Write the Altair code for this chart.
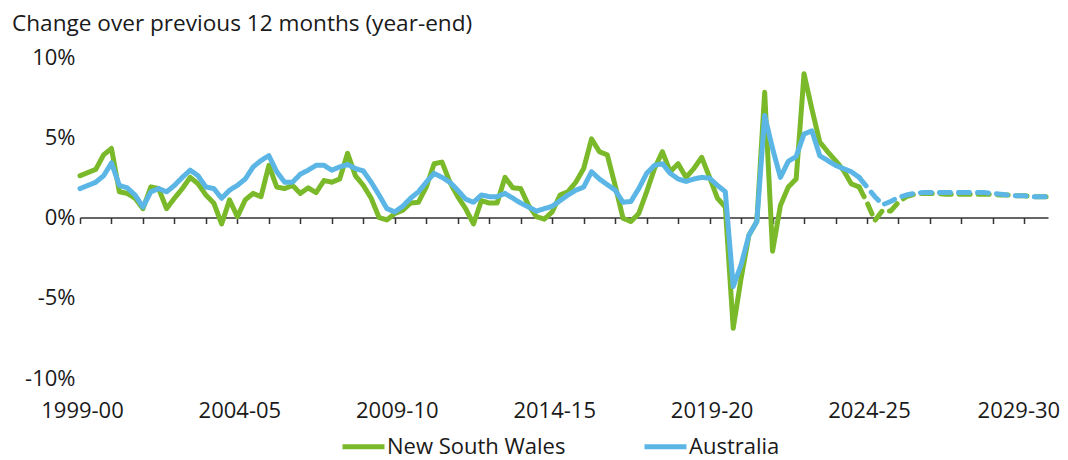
import json
import altair as alt
import pandas as pd

# Quarterly, Sep-1999 (index 0) to Jun-2030 (index 123); actuals to index 99, then projections
year_labels = ["1999-00", "2004-05", "2009-10", "2014-15", "2019-20", "2024-25", "2029-30"]
series_names = ["New South Wales", "Australia"]
series_colors = ["#7AB929", "#5BB6E6"]
last_actual = 99

nsw = [
    2.6, 2.8, 3.0, 3.9, 4.3, 1.6, 1.5, 1.2, 0.55, 1.9,
    1.8, 0.55, 1.2, 1.8, 2.5, 2.1, 1.4, 0.9, -0.4, 1.1,
    0.05, 1.1, 1.5, 1.3, 3.25, 1.9, 1.8, 2.0, 1.5, 1.85,
    1.55, 2.3, 2.2, 2.4, 4.0, 2.6, 2.0, 1.2, 0.0, -0.15,
    0.25, 0.45, 0.9, 0.95, 1.9, 3.35, 3.45, 2.2, 1.3, 0.55,
    -0.4, 1.05, 0.9, 0.9, 2.5, 1.85, 1.8, 0.75, 0.05, -0.1,
    0.35, 1.4, 1.6, 2.2, 3.05, 4.9, 4.1, 3.9, 2.0, -0.05,
    -0.25, 0.25, 1.6, 3.05, 4.1, 2.85, 3.35, 2.5, 3.05, 3.75,
    2.5, 1.2, 0.65, -6.9, -3.8, -1.1, -0.25, 7.8, -2.1, 0.75,
    1.9, 2.4, 8.95, 6.75, 4.7, 4.1, 3.55, 2.95, 2.1, 1.9,
    0.95, -0.2, 0.45, 0.4, 0.95, 1.3, 1.45, 1.5, 1.5, 1.5,
    1.45, 1.45, 1.45, 1.45, 1.45, 1.45, 1.45, 1.4, 1.4, 1.35,
    1.35, 1.3, 1.3, 1.3,
]

aus = [
    1.8, 2.0, 2.2, 2.6, 3.4, 2.0, 1.85, 1.4, 0.65, 1.6,
    1.8, 1.6, 2.0, 2.5, 2.95, 2.6, 1.9, 1.8, 1.2, 1.7,
    2.0, 2.4, 3.15, 3.55, 3.85, 2.85, 2.2, 2.2, 2.7, 2.95,
    3.25, 3.25, 2.95, 3.15, 3.3, 3.05, 2.9, 2.2, 1.4, 0.55,
    0.35, 0.7, 1.2, 1.6, 2.2, 2.75, 2.5, 2.2, 1.7, 1.15,
    0.95, 1.4, 1.3, 1.3, 1.5, 1.2, 0.9, 0.65, 0.4, 0.55,
    0.7, 1.05, 1.4, 1.7, 1.9, 2.85, 2.4, 2.05, 1.7, 0.95,
    1.0, 1.8, 2.75, 3.25, 3.35, 2.75, 2.4, 2.25, 2.4, 2.5,
    2.45, 2.0, 1.6, -4.3, -2.95, -1.1, -0.25, 6.35, 4.3, 2.5,
    3.5, 3.8, 5.2, 5.4, 3.85, 3.55, 3.25, 3.05, 2.85, 2.5,
    1.9, 1.3, 0.8, 1.0, 1.25, 1.4, 1.5, 1.55, 1.55, 1.55,
    1.55, 1.55, 1.55, 1.55, 1.55, 1.55, 1.5, 1.45, 1.4, 1.35,
    1.35, 1.3, 1.3, 1.3,
]

rows = []
for name, vals in zip(series_names, [nsw, aus]):
    for i, v in enumerate(vals):
        if i <= last_actual:
            rows.append({"series": name, "q": i, "value": v, "seg": "Actual"})
        if i >= last_actual:
            rows.append({"series": name, "q": i, "value": v, "seg": "Projection"})
df = pd.DataFrame(rows)

FONT = "Open Sans"
TXT = "#1a1a1a"
n_q = len(nsw)
last_label_q = 20 * (len(year_labels) - 1)

label_expr = "datum.value % 20 == 0 ? " + json.dumps(year_labels) + "[datum.value / 20] : ''"

x_enc = alt.X(
    "q:Q",
    scale=alt.Scale(domain=[0, n_q - 1], nice=False, zero=False),
    axis=alt.Axis(
        values=list(range(0, n_q, 4)),
        labelExpr=label_expr,
        offset=-160.5,
        tickSize=6,
        tickWidth=1.5,
        domainWidth=1.5,
        domainColor="#333333",
        tickColor="#333333",
        labelPadding=177,
        labelFontSize=22,
        labelFont=FONT,
        labelColor=TXT,
        labelOverlap=False,
        labelFlush=False,
        labelAngle=0,
        labelOffset={"condition": {"test": f"datum.value == {last_label_q}", "value": -6}, "value": 2},
        grid=False,
        title=None,
    ),
)

y_enc = alt.Y(
    "value:Q",
    scale=alt.Scale(domain=[-10, 10], nice=False),
    axis=alt.Axis(
        values=[-10, -5, 0, 5, 10],
        labelExpr="datum.value + '%'",
        domain=False,
        ticks=False,
        grid=False,
        labelPadding=5,
        labelFontSize=22,
        labelFont=FONT,
        labelColor=TXT,
        title=None,
    ),
)

color_enc = alt.Color(
    "series:N",
    scale=alt.Scale(domain=series_names, range=series_colors),
    legend=alt.Legend(
        orient="none",
        legendX=260,
        legendY=366,
        direction="horizontal",
        title=None,
        symbolType="stroke",
        symbolSize=1764,
        symbolStrokeWidth=5,
        labelFontSize=22,
        labelFont=FONT,
        labelColor=TXT,
        labelLimit=400,
        labelOffset=0,
        columnPadding=68,
    ),
)

dash_enc = alt.StrokeDash(
    "seg:N",
    scale=alt.Scale(domain=["Actual", "Projection"], range=[[1, 0], [11, 8]]),
    legend=None,
)

layers = []
for name in series_names:
    layers.append(
        alt.Chart(df)
        .transform_filter(alt.datum.series == name)
        .mark_line(strokeWidth=5, strokeJoin="round", strokeCap="round")
        .encode(x=x_enc, y=y_enc, color=color_enc, strokeDash=dash_enc, detail="seg:N")
    )

chart = (
    alt.layer(*layers)
    .properties(
        width=968,
        height=321,
        autosize=alt.AutoSizeParams(type="none"),
        padding={"left": 72, "top": 49, "right": 12, "bottom": 82},
        title=alt.Title(
            "Change over previous 12 months (year-end)",
            anchor="start",
            frame="group",
            dx=-68,
            fontSize=22.6,
            font=FONT,
            fontWeight="normal",
            color=TXT,
            offset=10,
        ),
    )
    .configure_view(stroke=None)
)

chart.save("out.html", embed_options={"renderer": "svg", "actions": False})
